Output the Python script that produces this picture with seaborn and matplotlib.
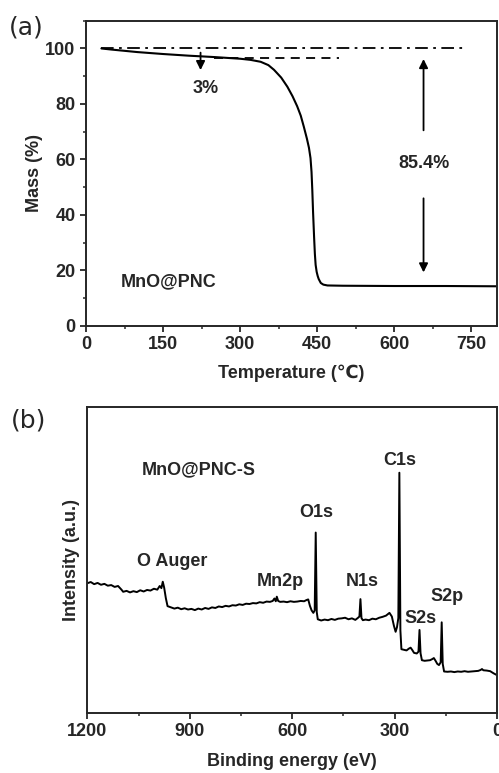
import numpy as np
import pandas as pd
import matplotlib
matplotlib.use("Agg")
import matplotlib.pyplot as plt
import seaborn as sns
from matplotlib.ticker import MultipleLocator

# TGA data (a)
temp = [30, 50, 100, 150, 200, 250, 300, 320, 340, 355, 366, 380, 392, 402,
        411, 418, 424, 430, 434, 437, 439, 440.5, 442, 444, 445.5, 447, 449,
        451, 453, 457, 462, 470, 500, 600, 700, 800]
mass = [100, 99.6, 98.7, 98.0, 97.4, 96.9, 96.3, 95.9, 95.2, 94.0, 92.3, 89.5,
        86.2, 82.8, 79.2, 75.8, 71.8, 67.5, 64.2, 60.5, 55.5, 49, 41, 32, 26,
        22, 19.5, 18, 16.9, 15.5, 14.9, 14.6, 14.5, 14.4, 14.4, 14.3]

# XPS survey data (b)
be = [1200, 1190, 1180, 1170, 1160, 1150, 1140, 1130, 1120, 1110, 1100, 1095,
      1085, 1075, 1065, 1055, 1045, 1035, 1025, 1015, 1005, 995, 988, 983, 979,
      975, 970, 965, 955, 945, 935, 925, 915, 905, 895, 885, 875, 865, 855, 845,
      835, 825, 815, 805, 795, 785, 775, 765, 755, 745, 735, 725, 715, 705, 695,
      685, 675, 665, 657, 652, 648, 645, 641, 635, 625, 615, 605, 595, 585, 575,
      565, 558, 553, 548, 543, 538, 534, 531, 528, 525, 515, 505, 495, 485, 475,
      465, 455, 445, 435, 425, 415, 408, 403, 400, 397, 393, 385, 375, 365, 355,
      345, 335, 325, 315, 308, 302, 297, 293, 289, 286, 283, 280, 272, 265, 258,
      253, 248, 243, 235, 230, 227, 224, 220, 212, 204, 196, 189, 185, 180, 175,
      170, 165, 162, 159, 155, 145, 135, 125, 115, 105, 95, 85, 75, 65, 55, 48,
      44, 40, 30, 20, 10, 0]
intensity = [42.4, 42.8, 42.1, 42.5, 41.9, 42.2, 41.6, 41.8, 41.2, 41.5, 40.3,
             39.6, 39.9, 39.4, 39.8, 39.5, 40.1, 39.7, 40.2, 40.0, 40.6, 40.3,
             41.5, 40.8, 42.9, 41.0, 37.5, 34.9, 34.5, 34.1, 34.4, 33.9, 34.2,
             33.8, 34.0, 33.6, 34.1, 33.8, 34.3, 34.0, 34.5, 34.3, 34.8, 34.6,
             35.0, 34.8, 35.2, 35.1, 35.5, 35.3, 35.7, 35.6, 35.9, 35.8, 36.2,
             36.0, 36.4, 36.3, 36.6, 37.4, 36.5, 38.0, 36.6, 36.3, 36.4, 36.2,
             36.5, 36.3, 36.4, 36.6, 36.5, 36.9, 37.1, 35.0, 33.5, 32.7, 33.5,
             59.0, 33.0, 30.6, 30.2, 30.5, 30.3, 30.7, 30.4, 30.8, 30.9, 31.1,
             30.6, 30.9, 30.4, 31.0, 31.5, 37.2, 31.0, 30.3, 30.5, 30.3, 30.8,
             30.6, 31.1, 31.4, 31.8, 32.7, 31.5, 28.5, 26.5, 28.0, 31.0, 78.6,
             27.0, 20.8, 20.6, 20.4, 21.0, 21.3, 20.5, 19.6, 19.4, 20.0, 27.1,
             19.5, 17.2, 17.0, 17.1, 17.2, 17.6, 17.9, 17.0, 16.0, 15.6, 16.5,
             29.6, 16.0, 13.5, 13.4, 13.5, 13.3, 13.5, 13.4, 13.6, 13.4, 13.5,
             13.6, 13.7, 14.0, 14.3, 13.9, 13.8, 13.6, 12.9, 12.3]

peak_labels = ["O Auger", "Mn2p", "O1s", "N1s", "C1s", "S2s", "S2p"]
peak_be = [951, 635, 528, 396, 284, 223, 147]
peak_int = [49.5, 42.9, 65.5, 42.9, 82.5, 30.9, 38.0]

tga = pd.DataFrame({"T": temp, "m": mass})
xps = pd.DataFrame({"E": be, "I": intensity})

sns.set_style("ticks")
plt.rcParams["font.family"] = ["Liberation Sans", "DejaVu Sans"]
plt.rcParams["font.weight"] = "bold"
plt.rcParams["axes.linewidth"] = 1.4

fig = plt.figure(figsize=(4.99, 7.73), dpi=100)
ax1 = fig.add_axes([0.1723, 0.5783, 0.8237, 0.3949])
ax2 = fig.add_axes([0.175, 0.078, 0.821, 0.395])

fs = 13

# ---- (a) ----
sns.lineplot(data=tga, x="T", y="m", ax=ax1, color="black", lw=1.5)
ax1.plot([30, 733], [100.2, 100.2], color="black", lw=1.3, ls=(0, (7, 3, 1.5, 3)))
ax1.plot([250, 492], [96.6, 96.6], color="black", lw=1.3, ls=(0, (5, 3.5)))
arrow = dict(arrowstyle="-|>", color="black", lw=1.3, mutation_scale=13)
ax1.annotate("", xy=(223, 91.2), xytext=(223, 99.5), arrowprops=arrow)
ax1.text(233, 85.6, "3%", ha="center", va="center", fontsize=fs, fontweight="bold")
ax1.annotate("", xy=(657, 97.2), xytext=(657, 69.5), arrowprops=arrow)
ax1.annotate("", xy=(657, 18.3), xytext=(657, 47), arrowprops=arrow)
ax1.text(658, 58.6, "85.4%", ha="center", va="center", fontsize=fs, fontweight="bold")
ax1.text(67, 16, "MnO@PNC", ha="left", va="center", fontsize=fs, fontweight="bold")
ax1.set_xlim(0, 800)
ax1.set_ylim(0, 110)
ax1.xaxis.set_major_locator(MultipleLocator(150))
ax1.xaxis.set_minor_locator(MultipleLocator(75))
ax1.yaxis.set_major_locator(MultipleLocator(20))
ax1.yaxis.set_minor_locator(MultipleLocator(10))
ax1.set_yticks([0, 20, 40, 60, 80, 100])
ax1.set_xlabel("Temperature (\u2103)", fontsize=fs, fontweight="bold", labelpad=8)
ax1.set_ylabel("Mass (%)", fontsize=fs, fontweight="bold", labelpad=2)
fig.text(0.018, 0.964, "(a)", fontsize=18, fontweight="normal", family="DejaVu Sans",
         va="center")

# ---- (b) ----
sns.lineplot(data=xps, x="E", y="I", ax=ax2, color="black", lw=1.4, sort=False)
for lab, x, y in zip(peak_labels, peak_be, peak_int):
    ax2.text(x, y, lab, ha="center", va="center", fontsize=fs, fontweight="bold")
ax2.text(1040, 79.5, "MnO@PNC-S", ha="left", va="center", fontsize=fs, fontweight="bold")
ax2.set_xlim(1200, 0)
ax2.set_ylim(0, 100)
ax2.xaxis.set_major_locator(MultipleLocator(300))
ax2.xaxis.set_minor_locator(MultipleLocator(150))
ax2.set_yticks([])
ax2.set_xlabel("Binding energy (eV)", fontsize=fs, fontweight="bold", labelpad=9)
ax2.set_ylabel("Intensity (a.u.)", fontsize=fs, fontweight="bold", labelpad=5)
fig.text(0.022, 0.456, "(b)", fontsize=18, fontweight="normal", family="DejaVu Sans",
         va="center")

for ax in (ax1, ax2):
    ax.tick_params(which="major", direction="out", length=4, width=1.3,
                   labelsize=fs)
    ax.tick_params(which="minor", direction="out", length=2.5, width=1.1)
    for lbl in ax.get_xticklabels() + ax.get_yticklabels():
        lbl.set_fontweight("bold")
    for s in ax.spines.values():
        s.set_visible(True)

fig.savefig("out.png", dpi=100)
